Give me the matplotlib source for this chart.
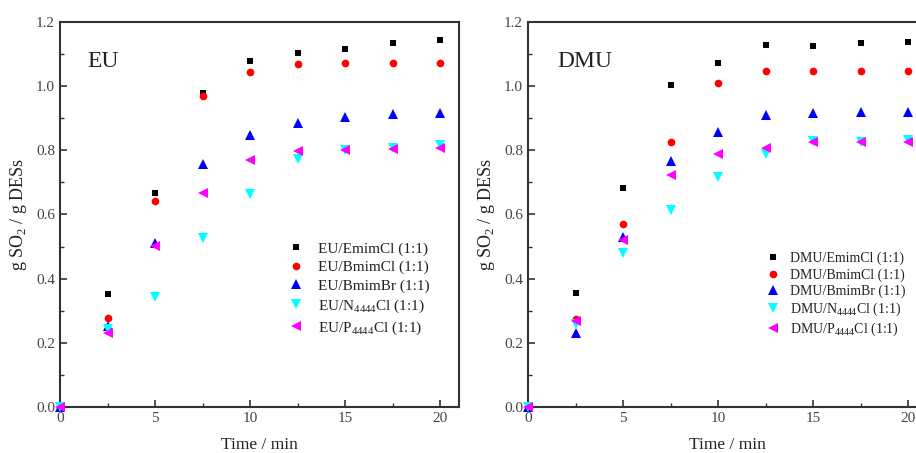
import matplotlib
matplotlib.use("Agg")
import matplotlib.pyplot as plt
from matplotlib.ticker import MultipleLocator

plt.rcParams['font.family'] = ['Liberation Serif', 'DejaVu Serif']
plt.rcParams['mathtext.fontset'] = 'custom'
plt.rcParams['mathtext.rm'] = 'Liberation Serif'

time = [0, 2.5, 5, 7.5, 10, 12.5, 15, 17.5, 20]

eu_emim = [0, 0.353, 0.668, 0.978, 1.077, 1.103, 1.117, 1.135, 1.143]
eu_bmimcl = [0, 0.277, 0.641, 0.969, 1.045, 1.070, 1.071, 1.071, 1.071]
eu_bmimbr = [0, 0.251, 0.512, 0.758, 0.848, 0.886, 0.904, 0.914, 0.916]
eu_n4444 = [0, 0.244, 0.343, 0.526, 0.665, 0.774, 0.802, 0.806, 0.816]
eu_p4444 = [0, 0.232, 0.502, 0.668, 0.771, 0.799, 0.802, 0.804, 0.806]

dmu_emim = [0, 0.356, 0.683, 1.005, 1.073, 1.127, 1.125, 1.135, 1.137]
dmu_bmimcl = [0, 0.275, 0.570, 0.827, 1.010, 1.046, 1.046, 1.046, 1.046]
dmu_bmimbr = [0, 0.232, 0.529, 0.766, 0.856, 0.910, 0.917, 0.919, 0.920]
dmu_n4444 = [0, 0.260, 0.481, 0.613, 0.717, 0.790, 0.829, 0.826, 0.831]
dmu_p4444 = [0, 0.268, 0.522, 0.722, 0.788, 0.806, 0.826, 0.825, 0.825]

hbd_eu = "EU"
hbd_dmu = "DMU"
hba_labels = ["EmimCl", "BmimCl", "BmimBr", r"N$_{4444}$Cl", r"P$_{4444}$Cl"]

markers = ['s', 'o', '^', 'v', '<']
colors = ['#000000', '#ff0000', '#0000ff', '#00ffff', '#ff00ff']
msizes = [5, 5.5, 6.5, 6.5, 6.5]

fig = plt.figure(figsize=(9.16, 4.53), dpi=100)
W, H = 916, 453
ax1 = fig.add_axes([60 / W, 46 / H, 399 / W, 385 / H])
ax2 = fig.add_axes([528 / W, 46 / H, 399 / W, 385 / H])


def draw(ax, hbd, series, legfs, leg_anchor, labelspacing, textpad, text_x):
    for ys, m, c, ms, hba in zip(series, markers, colors, msizes, hba_labels):
        ax.plot(time, ys, linestyle='none', marker=m, color=c, markersize=ms,
                markeredgewidth=0, label=f"{hbd}/{hba} (1:1)", clip_on=False, zorder=3)
    ax.set_xlim(0, 21)
    ax.set_ylim(0, 1.2)
    ax.xaxis.set_major_locator(MultipleLocator(5))
    ax.xaxis.set_minor_locator(MultipleLocator(2.5))
    ax.yaxis.set_major_locator(MultipleLocator(0.2))
    ax.yaxis.set_minor_locator(MultipleLocator(0.1))
    ax.yaxis.set_major_formatter(matplotlib.ticker.FormatStrFormatter('%.1f'))
    ax.tick_params(which='both', direction='in', top=False, right=False,
                   labelsize=11, labelcolor='#444444', color='#333333')
    ax.tick_params(which='major', length=5, width=1.2)
    ax.tick_params(which='minor', length=3, width=1.0)
    for s in ax.spines.values():
        s.set_color('#333333')
        s.set_linewidth(1.5)
    ax.set_xlabel("Time / min", fontsize=12.5, color='#222222', labelpad=9)
    ax.set_ylabel(r"g SO$_2$ / g DESs", fontsize=13, color='#222222', labelpad=5)
    ax.text(text_x, 1.078, hbd, fontsize=17, color='#222222', va='center', ha='left')
    leg = ax.legend(loc='upper left', bbox_to_anchor=leg_anchor, frameon=False,
                    fontsize=legfs, handletextpad=textpad, handlelength=1.0,
                    labelspacing=labelspacing, borderaxespad=0, borderpad=0)
    for t in leg.get_texts():
        t.set_color('#222222')


draw(ax1, hbd_eu, [eu_emim, eu_bmimcl, eu_bmimbr, eu_n4444, eu_p4444], 11,
     (0.572, 0.4286), 0.3, 0.93, 1.45)
draw(ax2, hbd_dmu, [dmu_emim, dmu_bmimcl, dmu_bmimbr, dmu_n4444, dmu_p4444], 10,
     (0.597, 0.403), 0.2, 0.72, 1.55)

fig.savefig("out.png", dpi=100)
